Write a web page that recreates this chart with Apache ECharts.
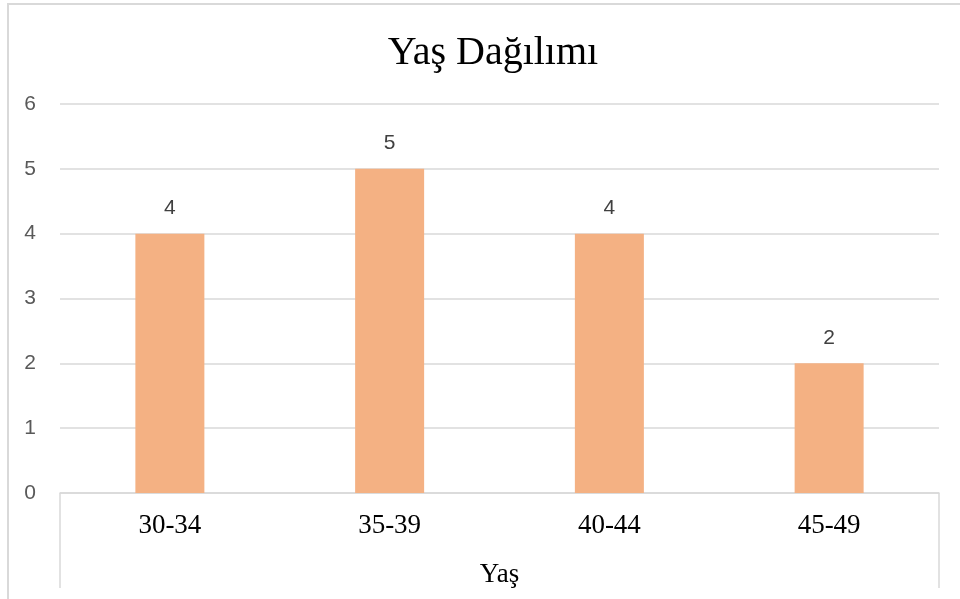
<!DOCTYPE html>
<html>
<head>
<meta charset="utf-8">
<script src="https://cdn.jsdelivr.net/npm/echarts@6/dist/echarts.min.js"></script>
<style>
  html, body { margin: 0; padding: 0; background: #fff; }
  #chart { width: 960px; height: 599px; }
</style>
</head>
<body>
<div id="chart"></div>
<script>
// Age groups and counts
const categories = ['30-34', '35-39', '40-44', '45-49'];
const counts = [4, 5, 4, 2];
const yTicks = [0, 1, 2, 3, 4, 5, 6];

const gridColor = '#d9d9d9';
const chart = echarts.init(document.getElementById('chart'), null, { renderer: 'canvas' });

chart.setOption({
  animation: false,
  backgroundColor: '#ffffff',
  title: {
    text: 'Yaş Dağılımı',
    left: 488,
    top: 28,
    textAlign: 'center',
    textStyle: {
      fontFamily: 'Liberation Serif',
      fontSize: 40,
      fontWeight: 'normal',
      color: '#000000'
    }
  },
  graphic: [{
    type: 'rect',
    silent: true,
    shape: { x: 8, y: 4, width: 970, height: 620 },
    style: { fill: 'none', stroke: gridColor, lineWidth: 2 }
  }],
  grid: { left: 60, right: 21, top: 104, bottom: 106, containLabel: false },
  xAxis: {
    type: 'category',
    data: categories,
    name: 'Yaş',
    nameLocation: 'middle',
    nameGap: 68,
    nameTextStyle: { fontFamily: 'Liberation Serif', fontSize: 27, color: '#000000' },
    axisLine: { show: true, lineStyle: { color: gridColor, width: 1.5 } },
    axisTick: {
      show: true,
      length: 95,
      interval: (i) => i === 0,
      lineStyle: { color: gridColor, width: 1.5 }
    },
    axisLabel: {
      margin: 19,
      fontFamily: 'Liberation Serif',
      fontSize: 27,
      color: '#000000'
    }
  },
  yAxis: {
    type: 'value',
    min: yTicks[0],
    max: yTicks[yTicks.length - 1],
    interval: 1,
    axisLine: { show: false },
    axisTick: { show: false },
    axisLabel: {
      margin: 24,
      fontFamily: 'Liberation Sans',
      fontSize: 21,
      color: '#595959'
    },
    splitLine: { lineStyle: { color: gridColor, width: 1.5 } }
  },
  series: [{
    type: 'bar',
    data: counts,
    barWidth: 69,
    itemStyle: { color: '#f4b183' },
    label: {
      show: true,
      position: 'top',
      distance: 15,
      fontFamily: 'Liberation Sans',
      fontSize: 21,
      color: '#404040'
    }
  }]
});
</script>
</body>
</html>
